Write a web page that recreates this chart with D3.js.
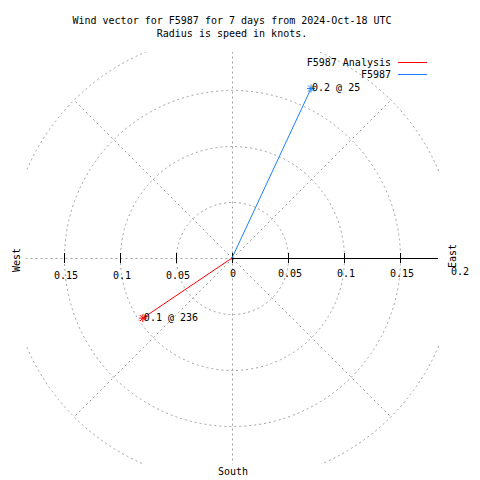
<!DOCTYPE html>
<html><head><meta charset="utf-8">
<script src="https://cdn.jsdelivr.net/npm/d3@7"></script>
<style>
body{margin:0;background:#fff}
text{font-family:"DejaVu Sans Mono","Liberation Mono",monospace;font-size:10px;fill:#000}
</style>
</head><body><svg id="chart" width="480" height="480"></svg>
<script>
const titleLines = ["Wind vector for F5987 for 7 days from 2024-Oct-18 UTC", "Radius is speed in knots."];
const seriesNames = ["F5987 Analysis", "F5987"];
const seriesColors = ["#ff0000", "#1a80ff"];
const directions = [236, 25];      // degrees, clockwise from north
const speeds = [0.096, 0.167];     // knots
const pointLabels = ["0.1 @ 236", "0.2 @ 25"];
const ringValues = [0.05, 0.1, 0.15, 0.2];
const tickValues = [0.05, 0.1, 0.15];
const tickLabels = ["0.05", "0.1", "0.15"];
const outerLabel = "0.2";
const spokeAngles = [0, 45, 90, 135, 180, 225, 270, 315];
const axisRange = 0.184;

const svg = d3.select("#chart");
const cx = 232, cy = 258;
const r = d3.scaleLinear().domain([0, 0.2]).range([0, 224]);
const px = (deg, v) => cx + r(v) * Math.sin(deg * Math.PI / 180);
const py = (deg, v) => cy - r(v) * Math.cos(deg * Math.PI / 180);
const grid = "#a0a0a0";

svg.append("defs").append("clipPath").attr("id", "clip")
  .append("rect")
  .attr("x", cx - r(axisRange)).attr("y", cy - r(axisRange))
  .attr("width", 2 * r(axisRange) + 1).attr("height", 2 * r(axisRange));

const g = svg.append("g").attr("clip-path", "url(#clip)");

// rings
g.selectAll("circle.ring").data(ringValues).join("circle")
  .attr("class", "ring").attr("cx", cx + 0.5).attr("cy", cy + 0.5).attr("r", d => r(d))
  .attr("fill", "none").attr("stroke", grid).attr("stroke-dasharray", "2,3");

// spokes (not the east one which is the solid axis)
g.selectAll("line.spoke").data(spokeAngles.filter(a => a !== 90)).join("line")
  .attr("class", "spoke")
  .attr("x1", cx + 0.5).attr("y1", cy + 0.5)
  .attr("x2", d => px(d, 0.2) + 0.5).attr("y2", d => py(d, 0.2) + 0.5)
  .attr("stroke", grid).attr("stroke-dasharray", "2,3");

// east axis solid
svg.append("line").attr("x1", cx).attr("y1", cy + 0.5).attr("x2", cx + r(axisRange)).attr("y2", cy + 0.5)
  .attr("stroke", "#000").attr("stroke-width", 1);

// ticks on both sides
const tickPos = [0].concat(tickValues.map(v => -v), tickValues);
svg.selectAll("line.tick").data(tickPos).join("line")
  .attr("class", "tick")
  .attr("x1", d => cx + (d < 0 ? -r(-d) : r(d)) + 0.5).attr("x2", d => cx + (d < 0 ? -r(-d) : r(d)) + 0.5)
  .attr("y1", cy - 5).attr("y2", cy + 5)
  .attr("stroke", "#000");

// tick labels: left
svg.selectAll("text.tl").data(tickValues).join("text")
  .attr("class", "tl").attr("text-anchor", "middle")
  .attr("x", d => cx - r(d) + 2).attr("y", cy + 21)
  .text((d, i) => tickLabels[i]);
// right
svg.selectAll("text.tr").data(tickValues).join("text")
  .attr("class", "tr").attr("text-anchor", "middle")
  .attr("x", d => cx + r(d) + 2).attr("y", cy + 19)
  .text((d, i) => tickLabels[i]);
svg.append("text").attr("text-anchor", "middle").attr("x", cx + 1).attr("y", cy + 19).text("0");
svg.append("text").attr("text-anchor", "middle").attr("x", cx + r(0.2) + 4).attr("y", cy + 17).text(outerLabel);

// compass labels
svg.append("text").attr("text-anchor", "middle").attr("transform", `translate(${cx + 224},${cy - 2}) rotate(-90)`).text("East");
svg.append("text").attr("text-anchor", "middle").attr("transform", `translate(${20},${cy + 2}) rotate(-90)`).text("West");
svg.append("text").attr("text-anchor", "middle").attr("x", cx + 1).attr("y", 475).text("South");

// title
svg.selectAll("text.title").data(titleLines).join("text")
  .attr("class", "title").attr("text-anchor", "middle")
  .attr("x", cx).attr("y", (d, i) => 24 + i * 13).text(d => d);

// vectors
const vec = svg.append("g");
directions.forEach((dir, i) => {
  const x2 = px(dir, speeds[i]), y2 = py(dir, speeds[i]);
  vec.append("line").attr("x1", cx).attr("y1", cy).attr("x2", x2).attr("y2", y2)
    .attr("stroke", seriesColors[i]).attr("stroke-width", 1);
  const s = 4;
  vec.append("path")
    .attr("d", `M${x2 - s},${y2}L${x2 + s},${y2}M${x2},${y2 - s}L${x2},${y2 + s}M${x2 - 3},${y2 - 3}L${x2 + 3},${y2 + 3}M${x2 - 3},${y2 + 3}L${x2 + 3},${y2 - 3}`)
    .attr("stroke", seriesColors[i]).attr("stroke-width", 1).attr("fill", "none");
  vec.append("text").attr("x", x2 + 1).attr("y", y2 + 3).text(pointLabels[i]);
});

// legend
const leg = svg.append("g");
seriesNames.forEach((n, i) => {
  const y = 66 + i * 12;
  leg.append("text").attr("text-anchor", "end").attr("x", 391).attr("y", y).text(n);
  leg.append("line").attr("x1", 398).attr("x2", 427).attr("y1", y - 3.5).attr("y2", y - 3.5)
    .attr("stroke", seriesColors[i]).attr("stroke-width", 1);
});
</script>
</body></html>
